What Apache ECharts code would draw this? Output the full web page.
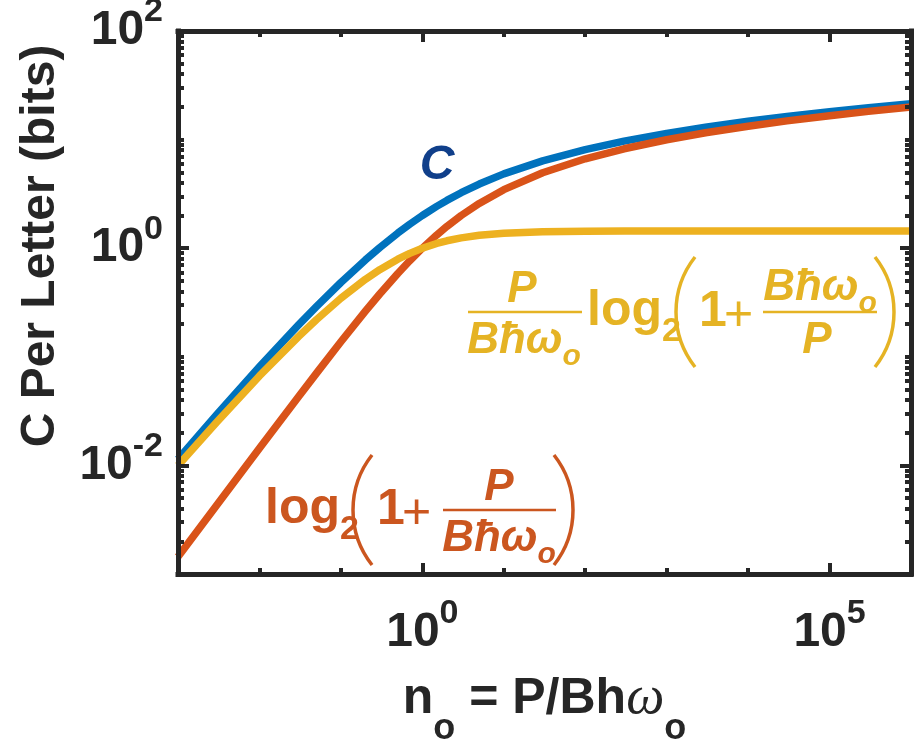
<!DOCTYPE html>
<html><head><meta charset="utf-8">
<script src="https://cdn.jsdelivr.net/npm/echarts@6/dist/echarts.min.js"></script>
<style>html,body{margin:0;padding:0;background:#fff}#c{width:923px;height:739px}</style>
</head><body><div id="c"></div>
<script>
// ---- data (log-log plot) ----
const nValues   = [0.001, 0.003, 0.01, 0.03, 0.05, 0.1, 0.2, 0.3, 0.5, 0.7, 1, 1.5, 2, 3, 5, 10, 30, 100, 300, 1000, 3000, 1e4, 3e4, 1e5, 3e5, 1e6];
const capacityC = [0.01141, 0.02948, 0.08094, 0.1957, 0.2900, 0.4834, 0.7800, 1.013, 1.377, 1.662, 2.000, 2.427, 2.755, 3.245, 3.900, 4.834, 6.373, 8.094, 9.674, 11.41, 12.99, 14.73, 16.32, 18.05, 19.64, 21.37];
const log2Term  = [0.001443, 0.004321, 0.01436, 0.04264, 0.07039, 0.1375, 0.2630, 0.3785, 0.5850, 0.7655, 1.000, 1.322, 1.585, 2.000, 2.585, 3.459, 4.954, 6.658, 8.234, 9.967, 11.55, 13.29, 14.87, 16.61, 18.19, 19.93];
const photonTerm= [0.009967, 0.02516, 0.06658, 0.1530, 0.2196, 0.3459, 0.5170, 0.6346, 0.7925, 0.8961, 1.000, 1.105, 1.170, 1.245, 1.315, 1.375, 1.419, 1.436, 1.440, 1.442, 1.442, 1.443, 1.443, 1.443, 1.443, 1.443];

const xDecades = [-3, -2, -1, 0, 1, 2, 3, 4, 5, 6];
const xLabelDecades = [0, 5];
const yDecades = [-3, -2, -1, 0, 1, 2];
const yLabelDecades = [-2, 0, 2];
const yMinorFactors = [2, 3, 4, 5, 6, 7, 8, 9];

// ---- styling ----
const FONT = '"Liberation Sans", Arial, Helvetica, sans-serif';
const SERIF = '"Liberation Serif", "Times New Roman", serif';
const AX = '#262626';
const BLUE = '#0072BD', RED = '#D95319', YEL = '#EDB120';
const YEL_T = '#E5B324', RED_T = '#CB561F', C_T = '#103F8A';

const xMinor = xDecades.filter(d => !xLabelDecades.includes(d));
const yMinor = [];
yDecades.forEach(m => {
  if (m < 2) yMinorFactors.forEach(k => yMinor.push(m + Math.log10(k)));
  if (!yLabelDecades.includes(m)) yMinor.push(m);
});

// superscript: main token centred in a tall line, exponent pinned to line top
const labelRich = {
  b: {fontSize: 48, fontWeight: 'bold', fontFamily: FONT, color: AX, lineHeight: 72},
  s: {fontSize: 34, fontWeight: 'bold', fontFamily: FONT, color: AX, verticalAlign: 'top'}
};
const fmtPow = v => '{b|10}{s|' + Math.round(v) + '}';

function tickAxis(dim, position, ticks, len, withLine, labels, extra) {
  const a = {
    type: 'value', position: position,
    min: -3, max: dim === 'x' ? 6 : 2, interval: 1,
    z: 5,
    axisLine: {show: withLine, onZero: false, lineStyle: {color: AX, width: 5, cap: 'square'}},
    axisTick: {show: true, inside: true, length: len, customValues: ticks, lineStyle: {color: AX, width: 4}},
    splitLine: {show: false},
    axisLabel: labels ? {show: true, customValues: labels, formatter: fmtPow, rich: labelRich, margin: dim === 'x' ? 23 : 15} : {show: false}
  };
  return Object.assign(a, extra || {});
}

// subscript: main token centred in a tall line, subscript pinned to line bottom
const xName = '{m|n}{s|o}{m| = P/Bh}{w|ω}{s|o}';
const xNameRich = {
  m: {fontSize: 50, fontWeight: 'bold', fontFamily: FONT, color: AX, lineHeight: 96},
  s: {fontSize: 36, fontWeight: 'bold', fontFamily: FONT, color: AX, verticalAlign: 'bottom'},
  w: {fontSize: 54, fontWeight: 'normal', fontStyle: 'italic', fontFamily: SERIF, color: AX, lineHeight: 96}
};

const xAxes = [
  {type: 'log', logBase: 10, min: 0.001, max: 1e6, show: false},
  tickAxis('x', 'bottom', xMinor, 6, true, xLabelDecades, {
    name: xName, nameLocation: 'middle', nameGap: 77, nameTextStyle: {rich: xNameRich}
  }),
  tickAxis('x', 'bottom', xLabelDecades, 11, false, null),
  tickAxis('x', 'top', xMinor, 6, true, null),
  tickAxis('x', 'top', xLabelDecades, 11, false, null)
];
const yAxes = [
  {type: 'log', logBase: 10, min: 0.001, max: 100, show: false},
  tickAxis('y', 'left', yMinor, 6, true, yLabelDecades),
  tickAxis('y', 'left', yLabelDecades, 11, false, null),
  tickAxis('y', 'right', yMinor, 6, true, null),
  tickAxis('y', 'right', yLabelDecades, 11, false, null)
];

function pairs(vals) { return nValues.map((n, i) => [n, vals[i]]); }
function lineSeries(name, vals, color) {
  return {name, type: 'line', xAxisIndex: 0, yAxisIndex: 0, data: pairs(vals),
    showSymbol: false, symbol: 'none', smooth: false,
    lineStyle: {color, width: 7.5, cap: 'butt', join: 'round'}, z: 2};
}

// ---- annotation helpers ----
const f = (style, size, family) => style + ' ' + size + 'px ' + (family || FONT);
function T(x, y, text, font, fill, align, va) {
  return {type: 'text', z: 20, style: {x, y, text, font, fill, textAlign: align || 'center', textVerticalAlign: va || 'middle'}};
}
function R(x, y, text, rich, fill, align) {
  return {type: 'text', z: 20, style: {x, y, text, rich, fill, textAlign: align || 'center', textVerticalAlign: 'top'}};
}
function bar(x1, x2, y, stroke) {
  return {type: 'line', z: 20, shape: {x1, y1: y, x2, y2: y}, style: {stroke, lineWidth: 2.5}};
}
const PR = 89, PA = 0.666;
function lparen(left, cy, stroke) {
  return {type: 'arc', z: 20, shape: {cx: left + PR, cy, r: PR, startAngle: Math.PI - PA, endAngle: Math.PI + PA, clockwise: true}, style: {stroke, lineWidth: 3.5, fill: null}};
}
function rparen(right, cy, stroke) {
  return {type: 'arc', z: 20, shape: {cx: right - PR, cy, r: PR, startAngle: -PA, endAngle: PA, clockwise: true}, style: {stroke, lineWidth: 3.5, fill: null}};
}
// fraction piece "Bħω_o": line height 62 -> main centre at top+31, subscript ~16px lower
const fracRich = c => ({
  m: {fontSize: 44, fontWeight: 'bold', fontStyle: 'italic', fontFamily: FONT, fill: c, lineHeight: 62},
  s: {fontSize: 30, fontWeight: 'bold', fontStyle: 'italic', fontFamily: FONT, fill: c, verticalAlign: 'bottom'}
});
// "log_2": line height 76 -> main centre at top+38, subscript ~21px lower
const logRich = c => ({
  l: {fontSize: 50, fontWeight: 'bold', fontFamily: FONT, fill: c, lineHeight: 76},
  s: {fontSize: 34, fontWeight: 'bold', fontFamily: FONT, fill: c, verticalAlign: 'bottom'}
});

const yb = 312, rb = 510;
const graphics = [
  // y axis title
  {type: 'text', z: 20, x: 41, y: 246, rotation: Math.PI / 2,
   style: {x: 0, y: 0, text: 'C Per Letter (bits)', font: f('bold', 48), fill: AX, textAlign: 'center', textVerticalAlign: 'middle'}},
  // C label
  T(437, 166, 'C', f('italic bold', 48), C_T),
  // yellow formula
  T(522, yb - 22, 'P', f('italic bold', 44), YEL_T),
  bar(468, 582, yb, YEL_T),
  R(524, yb - 2, '{m|Bħω}{s|o}', fracRich(YEL_T), YEL_T),
  R(587, yb - 39, '{l|log}{s|2}', logRich(YEL_T), YEL_T, 'left'),
  lparen(676, yb, YEL_T),
  T(699, yb, '1', f('bold', 50), YEL_T, 'left'),
  T(724, yb + 4, '+', f('normal', 50), YEL_T, 'left'),
  bar(763, 877, yb, YEL_T),
  R(820, yb - 55, '{m|Bħω}{s|o}', fracRich(YEL_T), YEL_T),
  T(817, yb + 29, 'P', f('italic bold', 44), YEL_T),
  rparen(894, yb, YEL_T),
  // red formula
  R(265, rb - 39, '{l|log}{s|2}', logRich(RED_T), RED_T, 'left'),
  lparen(353, rb, RED_T),
  T(377, rb, '1', f('bold', 50), RED_T, 'left'),
  T(402, rb + 4, '+', f('normal', 50), RED_T, 'left'),
  T(499, rb - 22, 'P', f('italic bold', 44), RED_T),
  bar(443, 556, rb, RED_T),
  R(499, rb - 2, '{m|Bħω}{s|o}', fracRich(RED_T), RED_T),
  rparen(573, rb, RED_T)
];

const chart = echarts.init(document.getElementById('c'));
chart.setOption({
  animation: false,
  backgroundColor: '#fff',
  grid: {left: 178, right: 12, top: 31, bottom: 165, containLabel: false, outerBoundsMode: 'none'},
  xAxis: xAxes,
  yAxis: yAxes,
  series: [
    lineSeries('C', capacityC, BLUE),
    lineSeries('log2(1+P/Bħω)', log2Term, RED),
    lineSeries('P/Bħω log2(1+Bħω/P)', photonTerm, YEL)
  ],
  graphic: graphics
});
</script></body></html>
